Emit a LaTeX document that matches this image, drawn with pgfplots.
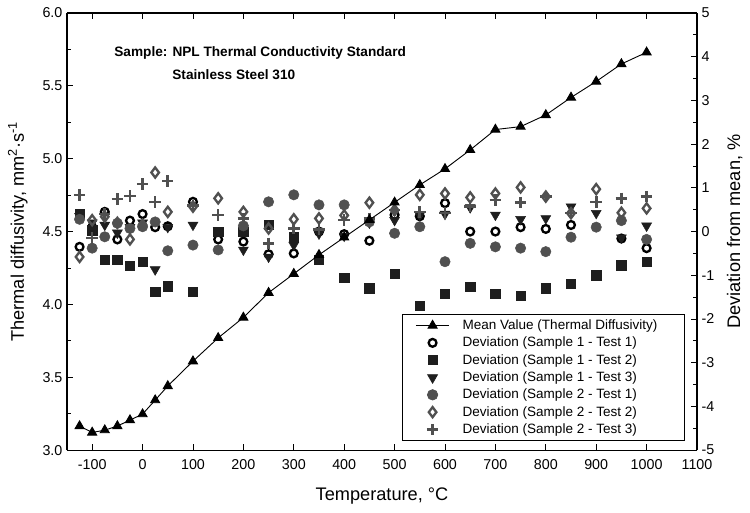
\documentclass[border=0pt]{standalone}
\usepackage{pgfplots}
\usepackage{pgfplotstable}
\pgfplotsset{compat=1.18}
\usepackage{fontspec}
\setmainfont{Liberation Sans}

\definecolor{dk}{HTML}{1E1E1E}
\definecolor{gr}{HTML}{505050}

% mean thermal diffusivity, mm2/s (left axis)
\pgfplotstableread{
T     a
-125  3.165
-100  3.121
-75   3.137
-50   3.165
-25   3.206
0     3.247
25    3.343
50    3.44
100   3.61
150   3.77
200   3.91
250   4.08
300   4.21
350   4.34
400   4.46
450   4.58
500   4.70
550   4.82
600   4.93
650   5.06
700   5.20
750   5.22
800   5.30
850   5.42
900   5.53
950   5.65
1000  5.73
}\meantab

% deviation from mean, % (right axis)
\pgfplotstableread{
T     s1a    s1b    s1c    s2a    s2b    s2c
-125  -0.35   0.40   0.35   0.28  -0.58   0.84
-100   0.10   0.03   0.20  -0.38   0.26  -0.15
-75    0.45  -0.65   0.15  -0.12   0.34   0.40
-50   -0.18  -0.64  -0.03   0.19   0.20   0.74
-25    0.25  -0.79   0.10   0.07  -0.18   0.81
0      0.40  -0.69   0.20   0.11   0.15   1.09
25     0.10  -1.38  -0.87   0.22   1.35   0.68
50     0.12  -1.25   0.10  -0.44   0.45   1.16
100    0.68  -1.38   0.15  -0.31   0.57   0.60
150   -0.18   0.00   0.03  -0.42   0.76   0.38
200   -0.23   0.00  -0.42   0.13   0.45   0.30
250   -0.52   0.15  -0.58   0.68   0.07  -0.27
300   -0.50  -0.13  -0.31   0.84   0.28   0.07
350    0.00  -0.65  -0.05   0.61   0.30   0.05
400   -0.06  -1.06  -0.10   0.61   0.37   0.26
450   -0.21  -1.30   0.20   0.22   0.66   0.30
500    0.38  -0.97   0.26  -0.04   0.49   0.49
550    0.35  -1.70   0.38   0.11   0.84   0.45
600    0.65  -1.43   0.40  -0.69   0.87   0.42
650    0.00  -1.26   0.55  -0.27   0.78   0.57
700    0.00  -1.43   0.38  -0.35   0.87   0.72
750    0.10  -1.47   0.28  -0.38   1.01   0.66
800    0.06  -1.30   0.30  -0.46   0.80   0.80
850    0.15  -1.19   0.57  -0.13   0.42   0.42
900   -1.00  -1.00   0.42   0.10   0.97   0.68
950   -0.16  -0.77  -0.14   0.25   0.43   0.76
1000  -0.38  -0.69   0.13  -0.18   0.53   0.80
}\devtab

\pgfplotsset{
  base/.style={
    width=485pt, height=336.5pt, scale only axis,
    xmin=-150, xmax=1100,
    tick align=inside,
    major tick length=5pt, minor tick length=3pt,
    axis line style={line width=0.9pt},
    every tick/.style={black, line width=0.7pt},
    tick label style={font=\fontsize{11}{13}\selectfont},
    label style={font=\fontsize{14}{16}\selectfont, inner sep=0pt},
    /pgf/number format/assume math mode=true,
    /pgf/number format/1000 sep={},
  }
}

\begin{document}
\begin{tikzpicture}

% deviations, right axis
\begin{axis}[base,
  axis y line*=right, axis x line=none,
  ymin=-5, ymax=5, ytick={-5,-4,-3,-2,-1,0,1,2,3,4,5}, minor y tick num=1,
  ylabel={Deviation from mean, \%},
  ylabel style={at={(axis description cs:1.060,0.5)}, anchor=center},
  legend style={at={(0.981,0.021)}, anchor=south east, draw=black,
    line width=0.6pt, font=\fontsize{10.4}{12}\selectfont,
    row sep=0.3pt, inner xsep=10pt, inner ysep=2pt,
    /tikz/every odd column/.append style={column sep=8pt}},
  legend cell align=left,
  legend image code/.code={\draw[mark repeat=2,mark phase=2,#1]
    plot coordinates {(0cm,0cm) (0.45cm,0cm) (0.9cm,0cm)};},
]
\addlegendimage{black, line width=0.7pt, mark=triangle*, mark size=4pt}
\addlegendentry{Mean Value (Thermal Diffusivity)\hspace*{9pt}}

\addplot[only marks, mark=o, mark size=3pt, draw=black, line width=1.8pt]
  table[x=T, y=s1a]{\devtab};
\addlegendentry{Deviation (Sample 1 - Test 1)}

\addplot[only marks, mark=square*, mark size=3.6pt, draw=dk, fill=dk]
  table[x=T, y=s1b]{\devtab};
\addlegendentry{Deviation (Sample 1 - Test 2)}

\addplot[only marks, mark=triangle*, mark size=4.4pt, draw=dk, fill=dk,
  mark options={rotate=180}]
  table[x=T, y=s1c]{\devtab};
\addlegendentry{Deviation (Sample 1 - Test 3)}

\addplot[only marks, mark=*, mark size=4pt, draw=gr, fill=gr]
  table[x=T, y=s2a]{\devtab};
\addlegendentry{Deviation (Sample 2 - Test 1)}

\addplot[only marks, mark=diamond, mark size=3.9pt, draw=gr, line width=1.8pt]
  table[x=T, y=s2b]{\devtab};
\addlegendentry{Deviation (Sample 2 - Test 2)}

\addplot[only marks, mark=+, mark size=4.4pt, draw=gr, line width=2pt]
  table[x=T, y=s2c]{\devtab};
\addlegendentry{Deviation (Sample 2 - Test 3)}
\end{axis}

% mean value, left axis
\begin{axis}[base,
  clip=false,
  axis y line*=left,
  ymin=3, ymax=6, ytick={3,3.5,4,4.5,5,5.5,6}, minor y tick num=1,
  yticklabel style={/pgf/number format/.cd, fixed, fixed zerofill, precision=1},
  xtick={-100,0,100,200,300,400,500,600,700,800,900,1000,1100},
  xticklabel style={yshift=-4pt},
  xlabel={Temperature, °C},
  xlabel style={at={(axis description cs:0.5,-0.105)}, anchor=center},
  ylabel={Thermal diffusivity, mm\textsuperscript{2}·s\textsuperscript{-1}},
  ylabel style={at={(axis description cs:-0.078,0.5)}, anchor=center},
]
\addplot[black, line width=0.7pt, mark=triangle*, mark size=4pt]
  table[x=T, y=a]{\meantab};
\node[anchor=west, font=\bfseries\fontsize{10.5}{12}\selectfont]
  at (axis cs:-65,5.725) {Sample: NPL Thermal Conductivity Standard};
\node[anchor=west, font=\bfseries\fontsize{10.5}{12}\selectfont]
  at (axis cs:50,5.574) {Stainless Steel 310};
% frame of the whole picture
\path (axis description cs:-0.1063,-0.1419) rectangle (axis description cs:1.0841,1.0297);
\end{axis}

\end{tikzpicture}
\end{document}
